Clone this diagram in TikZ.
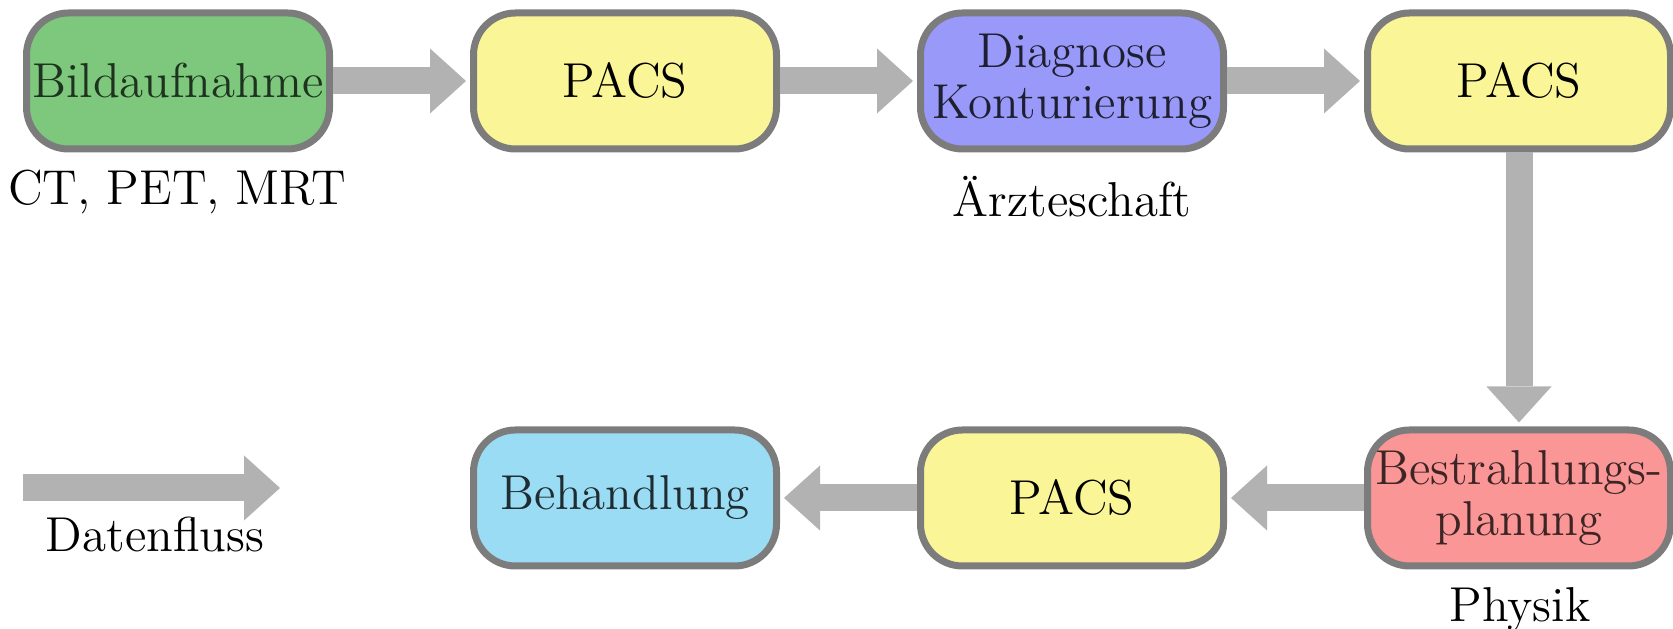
\documentclass[tikz,border=0pt]{standalone}
\usetikzlibrary{arrows.meta}
\definecolor{bordergray}{RGB}{124,124,124}
\definecolor{arrowgray}{RGB}{178,178,178}
\definecolor{cgreen}{RGB}{125,200,125}
\definecolor{cyellow}{RGB}{250,245,150}
\definecolor{cviolet}{RGB}{153,153,250}
\definecolor{cred}{RGB}{250,150,150}
\definecolor{cblue}{RGB}{155,220,245}
\begin{document}
\begin{tikzpicture}[x=0.25pt,y=-0.25pt,
  box/.style={draw=bordergray, line width=1.75pt, rounded corners=10.5pt,
    minimum width=75.75pt, minimum height=34pt, inner sep=0pt, align=center,
    font=\fontsize{12.25}{12.75}\selectfont},
  flow/.style={draw=arrowgray, line width=6.75pt,
    -{Triangle[width=16.25pt,length=9pt,line width=0pt]}, shorten >=1pt},
  lbl/.style={anchor=base, font=\fontsize{12.25}{12.75}\selectfont}]
\useasboundingbox (0,0) rectangle (1673,629);
% top row
\node[box, fill=cgreen, text=cgreen!25!black] (bild) at (178,81) {Bildaufnahme};
\node[box, fill=cyellow] (pacsa) at (625,81) {PACS};
\node[box, fill=cviolet, text=cviolet!20!black] (diag) at (1072,81) {Diagnose\\Konturierung};
\node[box, fill=cyellow] (pacsb) at (1519,81) {PACS};
% bottom row
\node[box, fill=cred, text=cred!25!black] (plan) at (1519,498) {Bestrahlungs-\\planung};
\node[box, fill=cyellow] (pacsc) at (1072,498) {PACS};
\node[box, fill=cblue, text=cblue!20!black] (beh) at (625,498) {Behandlung};
% labels
\node[lbl] (lct) at (177,205) {CT, PET, MRT};
\node[lbl] (larzt) at (1072,217) {\"Arzteschaft};
\node[lbl] (lphys) at (1520,622) {Physik};
\node[lbl] (ldaten) at (155,552) {Datenfluss};
% connectors
\draw[flow] (bild.east) -- (pacsa.west);
\draw[flow] (pacsa.east) -- (diag.west);
\draw[flow] (diag.east) -- (pacsb.west);
\draw[flow] (pacsb.south) -- (plan.north);
\draw[flow] (plan.west) -- (pacsc.east);
\draw[flow] (pacsc.west) -- (beh.east);
% legend
\coordinate (la) at (23,488);
\coordinate (lb) at (280,488);
\draw[flow, shorten >=0pt] (la) -- (lb);
\end{tikzpicture}
\end{document}
